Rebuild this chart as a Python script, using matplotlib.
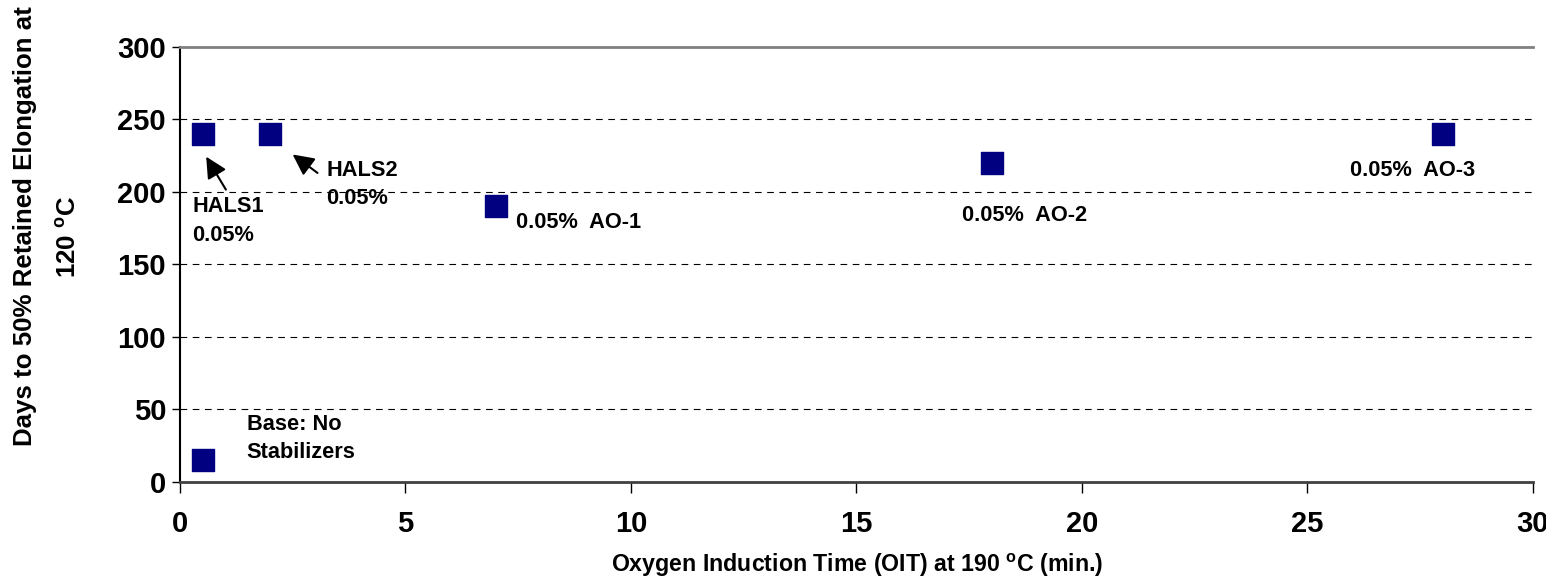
"""
OIT vs. days to 50% retained elongation, stabilizer comparison.
"""
import matplotlib
matplotlib.use('Agg')
import matplotlib.pyplot as plt

# data
oit = [0.5, 2, 7, 18, 28, 0.5]
days = [240, 240, 190, 220, 240, 15]

# label text and anchor (data coords)
labels = ['HALS1\n0.05%', 'HALS2\n0.05%', '0.05%  AO-1', '0.05%  AO-2',
          '0.05%  AO-3', 'Base: No\nStabilizers']
label_x = [0.27, 3.25, 7.45, 17.35, 25.95, 1.48]
label_y = [180, 205, 179, 184, 215, 30]

xticks = [0, 5, 10, 15, 20, 25, 30]
yticks = [0, 50, 100, 150, 200, 250, 300]


def plot_oit():
    plt.rcParams['font.family'] = ['Liberation Sans', 'DejaVu Sans']
    plt.rcParams['font.weight'] = 'bold'
    plt.rcParams['mathtext.fontset'] = 'custom'
    plt.rcParams['mathtext.bf'] = 'Liberation Sans:bold'
    plt.rcParams['mathtext.rm'] = 'Liberation Sans:bold'

    fig = plt.figure(figsize=(15.46, 5.86), dpi=100)
    ax = fig.add_axes([0.1164, 0.1775, 0.875, 0.7423])

    ax.scatter(oit, days, marker='s', s=270, color='#000080',
               edgecolors='#000080', zorder=3)

    for t, x, y in zip(labels, label_x, label_y):
        ax.text(x, y, t, fontsize=15.7, fontweight='bold', ha='left',
                va='center', linespacing=1.45)

    # arrows to the HALS points
    ax.annotate('', xy=(0.55, 226), xytext=(1.05, 200),
                arrowprops=dict(arrowstyle='-|>', color='black', lw=1.5,
                                mutation_scale=32))
    ax.annotate('', xy=(2.45, 227), xytext=(3.1, 212),
                arrowprops=dict(arrowstyle='-|>', color='black', lw=1.5,
                                mutation_scale=32))

    ax.set_xlim(0, 30)
    ax.set_ylim(0, 300)
    ax.set_xticks(xticks)
    ax.set_yticks(yticks)
    ax.tick_params(labelsize=21, direction='out', width=1)
    ax.tick_params(axis='x', length=8, pad=12)
    ax.tick_params(axis='y', length=6, pad=4)
    for lb in ax.get_xticklabels() + ax.get_yticklabels():
        lb.set_fontweight('bold')

    for v in yticks[1:-1]:
        ax.axhline(v, color='black', lw=0.8, ls=(0, (6, 5)), zorder=1)

    ax.spines['top'].set_color('#808080')
    ax.spines['top'].set_linewidth(2)
    ax.spines['right'].set_visible(False)
    ax.spines['left'].set_linewidth(1.5)
    ax.spines['bottom'].set_color('#404040')
    ax.spines['bottom'].set_linewidth(2)

    # axis titles placed by hand to follow the original layout
    fig.text(857 / 1546, 1 - 565 / 586,
             r'Oxygen Induction Time (OIT) at 190 $^{\mathbf{o}}$C (min.)',
             fontsize=16.7, fontweight='bold', ha='center', va='center')
    fig.text(25 / 1546, 1 - 226 / 586, 'Days to 50% Retained Elongation at',
             fontsize=18.6, fontweight='bold', rotation=90,
             ha='center', va='center')
    fig.text(68 / 1546, 1 - 237 / 586, r'120 $^{\mathbf{o}}$C',
             fontsize=18.6, fontweight='bold', rotation=90,
             ha='center', va='center')

    fig.savefig('out.png', dpi=100)


if __name__ == '__main__':
    plot_oit()
